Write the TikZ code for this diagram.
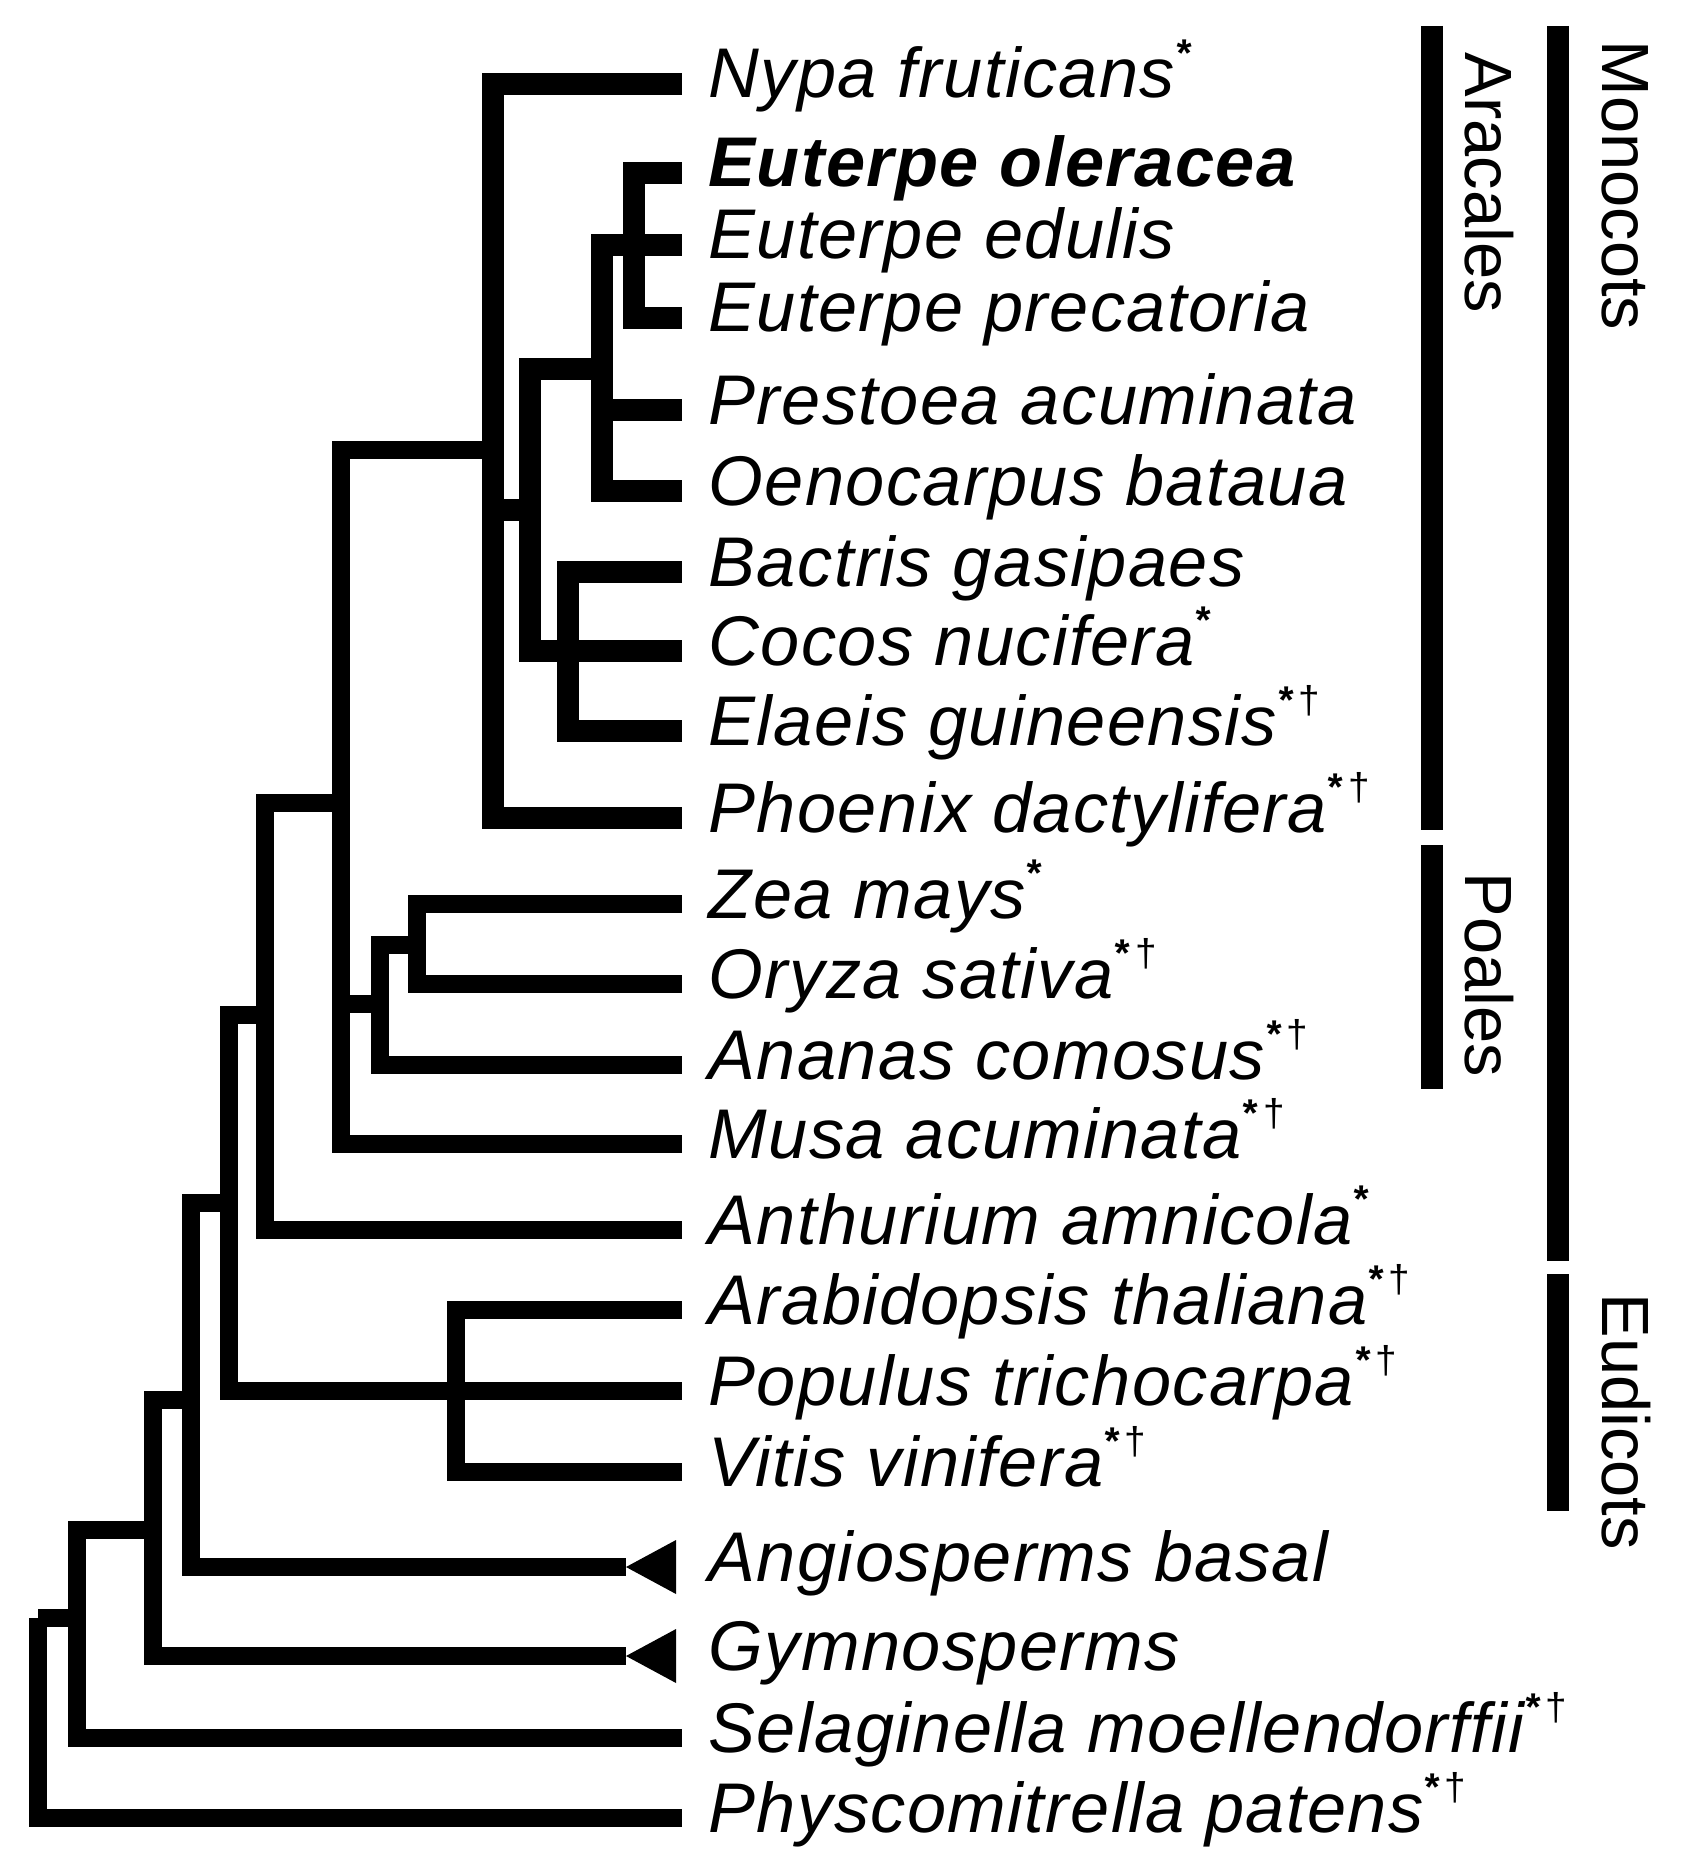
\documentclass[tikz,border=0pt]{standalone}
\usepackage{fontspec}
\setmainfont{Liberation Sans}
\newfontfamily\taxfont{Liberation Sans}[LetterSpace=2]
\usetikzlibrary{calc}

\newcommand{\mk}[1]{\raisebox{.85ex}{\fontsize{11}{11}\selectfont #1}}
\newcommand{\st}{\mk{\textbf{*}}}
\newcommand{\sd}{\mk{\textbf{*}\,\textup{†}}}

\tikzset{
  palm branch/.style={line width=6.2pt},
  thin branch/.style={line width=4.9pt},
  taxon/.style={anchor=base west, inner sep=0pt, font=\taxfont\fontsize{20}{24}\selectfont\itshape},
  clade/.style={rotate=-90, anchor=base west, inner sep=0pt, font=\fontsize{19}{23}\selectfont},
  bar/.style={line width=6.2pt},
}

\begin{document}
\begin{tikzpicture}[x=0.01cm, y=-0.01cm]
\useasboundingbox (0,0) rectangle (1694,1864);

% tips
\foreach \n/\y in {nypa/84, eole/173, eedu/245, epre/318, pres/410, oeno/491, bact/572, coco/651, elae/731, phoe/818, zea/904, oryz/984, anan/1065, musa/1144, anth/1230, arab/1310, popu/1391, viti/1472, angi/1567, gymn/1656, sela/1738, phys/1818}
  \coordinate (\n) at (682,\y);
\coordinate (angi-t) at (626,1567);
\coordinate (gymn-t) at (626,1656);

% inner nodes
\coordinate (eut)  at (634,245);
\coordinate (eupr) at (602,369);
\coordinate (baco) at (568,651);
\coordinate (coce) at (530,510);
\coordinate (palm) at (493,450);
\coordinate (zeor) at (417,945);
\coordinate (poal) at (380,1004);
\coordinate (comm) at (341,803);
\coordinate (mono) at (265,1015);
\coordinate (eudi) at (456,1391);
\coordinate (mesa) at (229,1203);
\coordinate (angs) at (191,1400);
\coordinate (seed) at (153,1530);
\coordinate (vasc) at (77,1618);
\coordinate (root) at (38,1618);

% palms
\draw[palm branch] (eut) |- (eole) (eut) |- (epre);
\draw[palm branch] (eupr) |- (eut) (eupr) |- (eedu) (eupr) |- (pres) (eupr) |- (oeno);
\draw[palm branch] (baco) |- (bact) (baco) |- (elae);
\draw[palm branch] (coce) |- (eupr) (coce) |- (baco) (coce) |- (coco);
\draw[palm branch] (palm) |- (nypa) (palm) |- (coce) (palm) |- (phoe);

% rest of the tree
\draw[thin branch] (zeor) |- (zea) (zeor) |- (oryz);
\draw[thin branch] (poal) |- (zeor) (poal) |- (anan);
\draw[thin branch] (comm) |- (palm) (comm) |- (poal) (comm) |- (musa);
\draw[thin branch] (mono) |- (comm) (mono) |- (anth);
\draw[thin branch] (eudi) |- (arab) (eudi) |- (popu) (eudi) |- (viti);
\draw[thin branch] (mesa) |- (mono) (mesa) |- (eudi);
\draw[thin branch] (angs) |- (mesa) (angs) |- (angi-t);
\draw[thin branch] (seed) |- (angs) (seed) |- (gymn-t);
\draw[thin branch] (vasc) |- (seed) (vasc) |- (sela);
\draw[thin branch] (root) |- (vasc) (root) |- (phys);

% collapsed clades
\fill (angi-t) -- ++(50,-27) -- ++(0,54) -- cycle;
\fill (gymn-t) -- ++(50,-27) -- ++(0,54) -- cycle;

% names
\foreach \n/\txt in {nypa/{Nypa fruticans\st}, eole/{\bfseries Euterpe oleracea}, eedu/{Euterpe edulis}, epre/{Euterpe precatoria}, pres/{Prestoea acuminata}, oeno/{Oenocarpus bataua}, bact/{Bactris gasipaes}, coco/{Cocos nucifera\st}, elae/{Elaeis guineensis\sd}, phoe/{Phoenix dactylifera\sd}, zea/{Zea mays\st}, oryz/{Oryza sativa\sd}, anan/{Ananas comosus\sd}, musa/{Musa acuminata\sd}, anth/{Anthurium amnicola\st}, arab/{Arabidopsis thaliana\sd}, popu/{Populus trichocarpa\sd}, viti/{Vitis vinifera\sd}, angi/{Angiosperms basal}, gymn/{Gymnosperms}, sela/{Selaginella moellendorffii\sd}, phys/{Physcomitrella patens\sd}}
  \node[taxon] (t-\n) at ($(\n)+(26,14)$) {\txt};

% clade bars
\draw[bar] (1432,26) coordinate (ara-a) -- (1432,830) coordinate (ara-b);
\draw[bar] (1432,845) coordinate (poa-a) -- (1432,1089) coordinate (poa-b);
\draw[bar] (1558,26) coordinate (mon-a) -- (1558,1261) coordinate (mon-b);
\draw[bar] (1558,1274) coordinate (eud-a) -- (1558,1511) coordinate (eud-b);
\node[clade] (l-ara) at (1465,52) {Aracales};
\node[clade] (l-poa) at (1465,872) {Poales};
\node[clade] (l-mon) at (1602,40) {Monocots};
\node[clade] (l-eud) at (1602,1293) {Eudicots};

\end{tikzpicture}
\end{document}
